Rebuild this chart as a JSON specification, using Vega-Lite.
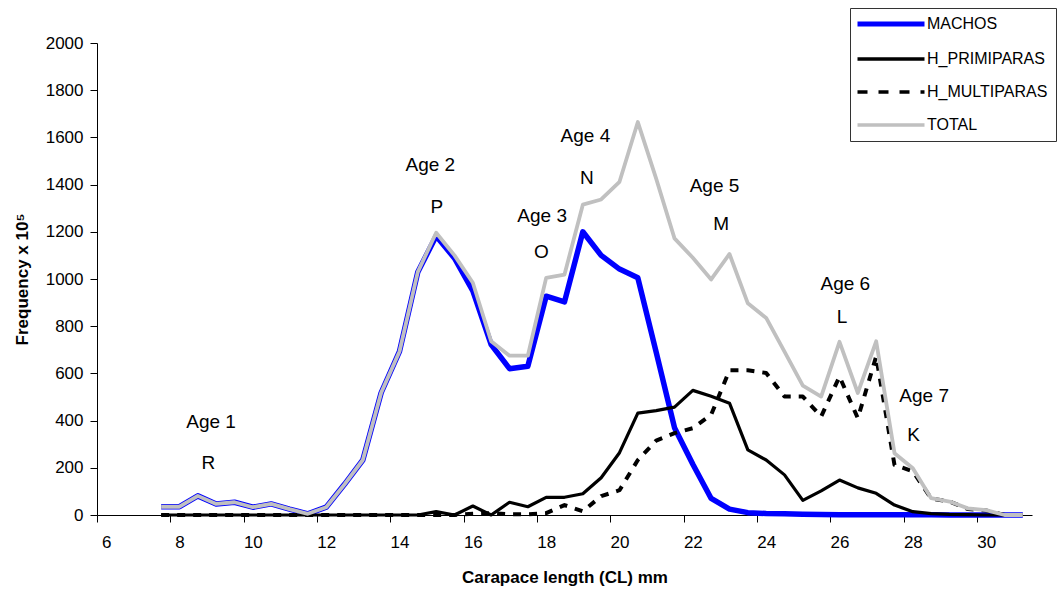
{
  "$schema": "https://vega.github.io/schema/vega-lite/v6.json",
  "width": 935,
  "height": 472,
  "autosize": "none",
  "padding": {"left": 97, "top": 43, "right": 26, "bottom": 80},
  "background": "white",
  "config": {
    "view": {"stroke": null},
    "font": "Liberation Sans",
    "axis": {
      "grid": false,
      "domainColor": "black",
      "tickColor": "black",
      "labelColor": "black",
      "titleColor": "black",
      "labelFont": "Liberation Sans",
      "titleFont": "Liberation Sans",
      "labelFontSize": 17,
      "titleFontSize": 17,
      "titleFontWeight": "bold",
      "tickSize": 7,
      "domainWidth": 1,
      "tickWidth": 1
    }
  },
  "datasets": {
    "series": [
      {"cl": 7.5, "M": 35, "P": 0, "U": 0, "T": 35},
      {"cl": 8.0, "M": 35, "P": 0, "U": 0, "T": 35},
      {"cl": 8.5, "M": 81, "P": 0, "U": 0, "T": 81},
      {"cl": 9.0, "M": 47, "P": 0, "U": 0, "T": 47},
      {"cl": 9.5, "M": 54, "P": 0, "U": 0, "T": 54},
      {"cl": 10.0, "M": 33, "P": 0, "U": 0, "T": 33},
      {"cl": 10.5, "M": 47, "P": 0, "U": 0, "T": 47},
      {"cl": 11.0, "M": 25, "P": 0, "U": 0, "T": 25},
      {"cl": 11.5, "M": 5, "P": 0, "U": 0, "T": 5},
      {"cl": 12.0, "M": 33, "P": 0, "U": 0, "T": 33},
      {"cl": 12.5, "M": 130, "P": 0, "U": 0, "T": 130},
      {"cl": 13.0, "M": 233, "P": 0, "U": 0, "T": 233},
      {"cl": 13.5, "M": 518, "P": 0, "U": 0, "T": 518},
      {"cl": 14.0, "M": 693, "P": 0, "U": 0, "T": 693},
      {"cl": 14.5, "M": 1030, "P": 0, "U": 0, "T": 1030},
      {"cl": 15.0, "M": 1182, "P": 14, "U": 0, "T": 1196},
      {"cl": 15.5, "M": 1088, "P": 0, "U": 0, "T": 1100},
      {"cl": 16.0, "M": 950, "P": 38, "U": 5, "T": 984},
      {"cl": 16.5, "M": 722, "P": 0, "U": 8, "T": 736},
      {"cl": 17.0, "M": 620, "P": 54, "U": 3, "T": 675},
      {"cl": 17.5, "M": 630, "P": 35, "U": 3, "T": 675},
      {"cl": 18.0, "M": 927, "P": 75, "U": 8, "T": 1005},
      {"cl": 18.5, "M": 903, "P": 75, "U": 42, "T": 1019},
      {"cl": 19.0, "M": 1200, "P": 90, "U": 16, "T": 1315},
      {"cl": 19.5, "M": 1100, "P": 158, "U": 80, "T": 1337},
      {"cl": 20.0, "M": 1042, "P": 264, "U": 105, "T": 1412},
      {"cl": 20.5, "M": 1005, "P": 432, "U": 233, "T": 1665},
      {"cl": 21.0, "M": 690, "P": 442, "U": 315, "T": 1425},
      {"cl": 21.5, "M": 370, "P": 457, "U": 347, "T": 1172},
      {"cl": 22.0, "M": 215, "P": 528, "U": 368, "T": 1090},
      {"cl": 22.5, "M": 70, "P": 503, "U": 425, "T": 998},
      {"cl": 23.0, "M": 25, "P": 474, "U": 613, "T": 1106},
      {"cl": 23.5, "M": 10, "P": 276, "U": 613, "T": 897},
      {"cl": 24.0, "M": 6, "P": 233, "U": 602, "T": 835},
      {"cl": 24.5, "M": 5, "P": 170, "U": 502, "T": 692},
      {"cl": 25.0, "M": 3, "P": 62, "U": 502, "T": 548},
      {"cl": 25.5, "M": 2, "P": 102, "U": 417, "T": 502},
      {"cl": 26.0, "M": 1, "P": 148, "U": 587, "T": 734},
      {"cl": 26.5, "M": 1, "P": 115, "U": 410, "T": 517},
      {"cl": 27.0, "M": 1, "P": 92, "U": 672, "T": 736},
      {"cl": 27.5, "M": 1, "P": 42, "U": 212, "T": 262},
      {"cl": 28.0, "M": 1, "P": 14, "U": 185, "T": 198},
      {"cl": 28.5, "M": 1, "P": 6, "U": 70, "T": 71},
      {"cl": 29.0, "M": 0, "P": 3, "U": 57, "T": 57},
      {"cl": 29.5, "M": 0, "P": 2, "U": 25, "T": 28},
      {"cl": 30.0, "M": 0, "P": 0, "U": 19, "T": 21},
      {"cl": 30.5, "M": 0, "P": 0, "U": 0, "T": 0},
      {"cl": 31.0, "M": 0, "P": 0, "U": 0, "T": 0}
    ],
    "notes": [
      {"cl": 8.86, "v": 393, "t": "Age 1"},
      {"cl": 8.79, "v": 220, "t": "R"},
      {"cl": 14.84, "v": 1482, "t": "Age 2"},
      {"cl": 15.02, "v": 1305, "t": "P"},
      {"cl": 17.89, "v": 1269, "t": "Age 3"},
      {"cl": 17.87, "v": 1114, "t": "O"},
      {"cl": 19.07, "v": 1607, "t": "Age 4"},
      {"cl": 19.11, "v": 1428, "t": "N"},
      {"cl": 22.59, "v": 1394, "t": "Age 5"},
      {"cl": 22.77, "v": 1234, "t": "M"},
      {"cl": 26.16, "v": 979, "t": "Age 6"},
      {"cl": 26.07, "v": 837, "t": "L"},
      {"cl": 28.31, "v": 506, "t": "Age 7"},
      {"cl": 28.02, "v": 340, "t": "K"}
    ]
  },
  "layer": [
    {
      "data": {"name": "series"},
      "mark": {"type": "line", "strokeWidth": 5.5, "strokeJoin": "round", "strokeCap": "butt"},
      "encoding": {
        "x": {
          "field": "cl", "type": "quantitative", "title": "Carapace length (CL) mm",
          "scale": {"domain": [5.75, 31.25], "nice": false, "zero": false},
          "axis": {
            "values": [5.75, 6.75, 7.75, 8.75, 9.75, 10.75, 11.75, 12.75, 13.75, 14.75, 15.75, 16.75, 17.75, 18.75, 19.75, 20.75, 21.75, 22.75, 23.75, 24.75, 25.75, 26.75, 27.75, 28.75, 29.75, 30.75],
            "labelExpr": "(datum.value + 0.25) % 2 == 0 ? '' + (datum.value + 0.25) : ''",
            "labelOffset": 9.17,
            "labelFlush": false,
            "labelOverlap": false,
            "labelPadding": 12,
            "titlePadding": 19
          }
        },
        "y": {
          "field": "M", "type": "quantitative", "title": "Frequency x 10⁵",
          "scale": {"domain": [0, 2000], "nice": false},
          "axis": {
            "values": [0, 200, 400, 600, 800, 1000, 1200, 1400, 1600, 1800, 2000],
            "format": "d",
            "labelPadding": 7,
            "titlePadding": 14
          }
        },
        "color": {
          "datum": "MACHOS", "type": "nominal",
          "scale": {"domain": ["MACHOS", "H_PRIMIPARAS", "H_MULTIPARAS", "TOTAL"], "range": ["#0000ff", "#000000", "#000000", "#c0c0c0"]},
          "legend": {
            "title": null,
            "orient": "none",
            "legendX": 753,
            "legendY": -35,
            "symbolType": "stroke",
            "symbolSize": 4489,
            "symbolOffset": 25,
            "symbolStrokeWidth": 3.5,
            "labelFont": "Liberation Sans",
            "labelFontSize": 16,
            "labelColor": "black",
            "labelOffset": 28,
            "labelLimit": 400,
            "rowPadding": 17,
            "padding": 8,
            "strokeColor": "#333333",
            "fillColor": "white",
            "cornerRadius": 0,
            "encode": {
              "symbols": {
                "update": {
                  "strokeWidth": {"signal": "datum.value === 'MACHOS' ? 5 : 3.5"},
                  "strokeDash": {"signal": "datum.value === 'H_MULTIPARAS' ? [10, 11] : [1, 0]"}
                }
              }
            }
          }
        }
      }
    },
    {
      "data": {"name": "series"},
      "mark": {"type": "line", "strokeWidth": 3.2, "strokeJoin": "round"},
      "encoding": {
        "x": {"field": "cl", "type": "quantitative", "title": "Carapace length (CL) mm"},
        "y": {"field": "P", "type": "quantitative", "title": "Frequency x 10⁵"},
        "color": {"datum": "H_PRIMIPARAS", "type": "nominal"}
      }
    },
    {
      "data": {"name": "series"},
      "mark": {"type": "line", "strokeWidth": 4, "strokeDash": [8, 8], "strokeJoin": "round"},
      "encoding": {
        "x": {"field": "cl", "type": "quantitative", "title": "Carapace length (CL) mm"},
        "y": {"field": "U", "type": "quantitative", "title": "Frequency x 10⁵"},
        "color": {"datum": "H_MULTIPARAS", "type": "nominal"}
      }
    },
    {
      "data": {"name": "series"},
      "mark": {"type": "line", "strokeWidth": 3.8, "strokeJoin": "round"},
      "encoding": {
        "x": {"field": "cl", "type": "quantitative", "title": "Carapace length (CL) mm"},
        "y": {"field": "T", "type": "quantitative", "title": "Frequency x 10⁵"},
        "color": {"datum": "TOTAL", "type": "nominal"}
      }
    },
    {
      "data": {"name": "notes"},
      "mark": {"type": "text", "font": "Liberation Sans", "fontSize": 19, "align": "center", "baseline": "middle", "color": "black"},
      "encoding": {
        "x": {"field": "cl", "type": "quantitative", "title": "Carapace length (CL) mm"},
        "y": {"field": "v", "type": "quantitative", "title": "Frequency x 10⁵"},
        "text": {"field": "t", "type": "nominal"}
      }
    }
  ]
}
